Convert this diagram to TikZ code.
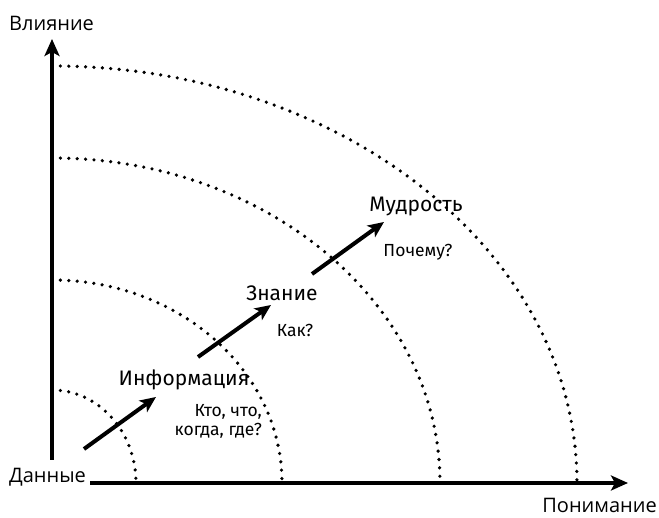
\documentclass[tikz,border=0pt]{standalone}
\usepackage{fontspec}
\setmainfont{Fira Sans}
\newfontfamily\axfont{Open Sans}
\usetikzlibrary{arrows.meta}
\begin{document}
\begin{tikzpicture}[x=1pt,y=1pt,
  axis/.style={line width=4pt,-{Stealth[length=17pt,width=15pt,inset=4pt]}},
  bigarrow/.style={line width=4pt,-{Stealth[length=16pt,width=14pt,inset=4pt]}},
  dots/.style={line width=3.6pt,line cap=round,dash pattern=on 0pt off 8.4pt},
  lab/.style={font=\fontsize{21}{24}\selectfont,anchor=base,inner sep=0pt},
  qlab/.style={font=\fontsize{17.5}{19}\selectfont,inner sep=0pt},
  axlab/.style={font=\axfont\fontsize{20}{22}\selectfont,inner sep=0pt}]
\useasboundingbox (0,0) rectangle (659,518);
% dotted quarter ellipses
\draw[dots] (52,128) arc[start angle=90,end angle=0,x radius=84pt,y radius=93pt];
\draw[dots] (52,238) arc[start angle=90,end angle=0,x radius=230pt,y radius=203pt];
\draw[dots] (52,360) arc[start angle=90,end angle=0,x radius=388pt,y radius=325pt];
\draw[dots] (52,452) arc[start angle=90,end angle=0,x radius=525pt,y radius=417pt];
% axes
\coordinate (vs) at (52,58);
\coordinate (ve) at (52,479);
\coordinate (hs) at (90,35);
\coordinate (he) at (628,35);
\draw[axis] (vs) -- (ve);
\draw[axis] (hs) -- (he);
% axis labels
\node[axlab,anchor=base west] (infl) at (9,487) {Влияние};
\node[axlab,anchor=base west] (data) at (9,35) {Данные};
\node[axlab,anchor=base east] (und) at (657,5) {Понимание};
% stage arrows
\coordinate (a1s) at (84,69);
\coordinate (a1e) at (156,121);
\coordinate (a2s) at (198,161);
\coordinate (a2e) at (271,213);
\coordinate (a3s) at (312,244);
\coordinate (a3e) at (384,296);
\draw[bigarrow] (a1s) -- (a1e);
\draw[bigarrow] (a2s) -- (a2e);
\draw[bigarrow] (a3s) -- (a3e);
% stage labels
\node[lab] (info) at (184,132) {Информация};
\node[qlab,align=right,anchor=base east] (q1) at (262,82) {Кто, что,\\когда, где?};
\node[lab] (know) at (282,217) {Знание};
\node[qlab,anchor=base] (q2) at (295,181) {Как?};
\node[lab] (wis) at (416,306) {Мудрость};
\node[qlab,anchor=base] (q3) at (418,261) {Почему?};
\end{tikzpicture}
\end{document}
